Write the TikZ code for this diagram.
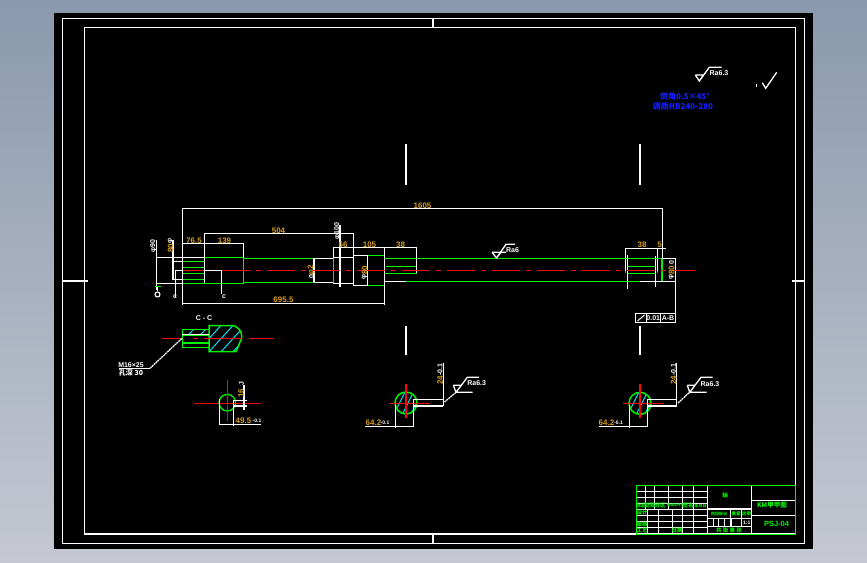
\documentclass[tikz,border=0pt]{standalone}
\usepackage{fontspec}
\setmainfont{Liberation Sans}
\newfontfamily\cjk{Noto Sans CJK SC}
\definecolor{bgtop}{RGB}{138,153,174}
\definecolor{bgbot}{RGB}{197,200,210}
\definecolor{cadorange}{RGB}{215,155,30}
\definecolor{cadgreen}{RGB}{0,245,0}
\definecolor{cadred}{RGB}{245,10,10}
\definecolor{cadblue}{RGB}{20,30,255}
\definecolor{cadcyan}{RGB}{0,225,245}
\tikzset{
  x=1pt,y=-1pt,
  wl/.style={draw=white,line width=1.3pt},
  gl/.style={draw=cadgreen,line width=1.3pt},
  thickgl/.style={draw=cadgreen,line width=1.5pt},
  rl/.style={draw=cadred,line width=1.6pt},
  centerl/.style={rl,dash pattern=on 28pt off 6pt on 5pt off 6pt},
  hl/.style={draw=cadcyan,line width=1pt},
  dot/.style={draw=white,line width=1.2pt,dash pattern=on 2pt off .6pt},
  dimt/.style={text=cadorange,font=\bfseries\fontsize{8}{8}\selectfont,inner sep=0pt},
  whitet/.style={text=white,font=\bfseries\fontsize{7}{7}\selectfont,inner sep=0pt},
  tinyw/.style={text=white,font=\bfseries\fontsize{5}{5}\selectfont,inner sep=0pt},
  bluet/.style={text=cadblue,font=\cjk\bfseries\fontsize{8}{8}\selectfont,inner sep=0pt},
  titlet/.style={text=cadgreen,font=\cjk\bfseries\fontsize{5.5}{5.5}\selectfont,inner sep=0pt},
}
\begin{document}
\begin{tikzpicture}
\useasboundingbox (0,0) rectangle (867,562);
\shade[top color=bgtop,bottom color=bgbot] (0,0) rectangle (867,562);
\fill[black] (54,13) rectangle (813,549);
% frames
\draw[wl] (62.5,18.5) rectangle (804.5,543.5);
\draw[wl] (84.5,27.5) rectangle (795.5,534);
\draw[wl] (433,18.5) -- (433,27.5) (433,534) -- (433,543.5);
\draw[wl] (62.5,281) -- (88,281) (792,281) -- (804.5,281);
% section marks
\draw[wl] (406,144) -- (406,185) (640,144) -- (640,185) (406,326) -- (406,355) (640,326) -- (640,355);
% top right notes
\draw[wl] (695.3,75) -- (703.3,75) -- (699.3,81) -- (695.3,75) (699.3,81) -- (709.3,67.3) -- (721.7,67.3);
\node[whitet] (note1) at (719,73.3) {Ra6.3};
\draw[wl] (756.3,84) -- (756.3,87);
\draw[wl] (762.3,82.7) -- (765.7,88.3) -- (776.7,72.3);
\node[bluet] (blue1) at (685,96) {倒角0.5×45°};
\node[bluet] (blue2) at (683,106) {调质HB240-280};
% shaft green
\draw[gl] (182.5,261.3) -- (204.3,261.3) (182.5,267.3) -- (204.3,267.3) (182.5,273.3) -- (204.3,273.3) (182.5,279.3) -- (204.3,279.3) (182.5,261.3) -- (182.5,283.3);
\draw[thickgl] (204.3,257.5) rectangle (243.3,283.3);
\draw[thickgl] (182.5,283.3) -- (204.3,283.3);
\draw[gl] (243.3,258.3) -- (314,258.3) (243.3,282.3) -- (314,282.3);
\draw[gl] (333.3,257.5) -- (333.3,283.3) (353.3,257.5) -- (353.3,283.3);
\draw[gl] (367.5,255.3) -- (384.3,255.3) (367.5,285.3) -- (384.3,285.3);
\draw[gl] (384.5,258.3) -- (662,258.3) (406,281.3) -- (640,281.3) (662,258.3) -- (662,281.3);
\draw[gl] (386,266.3) -- (416.5,266.3) (384.5,273.3) -- (416.5,273.3) (384.5,264) -- (384.5,273.3);
\draw[gl] (627,266.3) -- (656,266.3) (627,273.3) -- (656,273.3) (625.3,271) -- (625.3,273) (657.7,271) -- (657.7,273);
% shaft white
\draw[wl] (156.3,240) -- (156.3,290) (156.3,257.5) -- (204,257.5) (156.3,283.3) -- (182,283.3);
\draw[wl] (173,240) -- (173,279) (172,261.3) -- (182,261.3) (172,279.3) -- (182,279.3);
\draw[wl] (175.5,297) -- (175.5,270.5) -- (221.5,270.5) -- (221.5,294);
\draw[wl] (182.5,305) -- (182.5,208.5) -- (662.3,208.5) -- (662.3,258);
\draw[wl] (182.5,303.3) -- (384.3,303.3);
\draw[wl] (204.3,283) -- (204.3,233.3) -- (353.3,233.3) -- (353.3,255);
\draw[wl] (183,243.3) -- (243.3,243.3) -- (243.3,258);
\draw[wl] (314,258.3) -- (333,258.3) (314,282.3) -- (333,282.3) (314,258.3) -- (314,282.3);
\draw[wl] (333,257.5) -- (353,257.5) (333,283.3) -- (353,283.3);
\draw[wl] (333.3,258) -- (333.3,247.3) -- (416.5,247.3) -- (416.5,273);
\draw[wl] (340,225) -- (340,287);
\draw[wl] (353.3,255.3) rectangle (367.5,285.3);
\draw[wl] (384.3,247.3) -- (384.3,305) (384.3,281.3) -- (406,281.3);
\draw[wl] (625.3,271) -- (625.3,248.3) -- (666,248.3) (657.7,248.3) -- (657.7,271);
\draw[wl] (627.3,255) -- (627.3,289) (655.3,256) -- (655.3,287);
\draw[wl] (662,258.3) -- (675.3,258.3) -- (675.3,314) (640,281.3) -- (675.3,281.3);
% centre line
\draw[rl] (183,270.5) -- (204,270.5);
\draw[centerl] (222,270.5) -- (695,270.5);
% shaft labels
\node[dimt] (d1605) at (422.5,205.3) {1605};
\node[dimt] (d504) at (278.5,230.3) {504};
\node[dimt] (d765) at (194,240.3) {76.5};
\node[dimt] (d139) at (224.5,241) {139};
\node[dimt] (d66) at (343,244.7) {66};
\node[dimt] (d105) at (369.5,244.7) {105};
\node[dimt] (d38a) at (400.5,244.7) {38};
\node[dimt] (d38b) at (642,245) {38};
\node[dimt] (d5) at (659.5,245) {5};
\node[dimt] (d695) at (283.5,300) {695.5};
\node[dimt,rotate=90] (v1) at (170.5,248) {80};
\node[whitet,rotate=90] (v1b) at (170.5,240.5) {φ};
\node[whitet,rotate=90] (v2) at (153.5,246) {φ90};
\node[dimt,rotate=90] (v3) at (311.5,270) {φ2};
\node[whitet,rotate=90] (v3b) at (311.5,277) {0};
\node[whitet,rotate=90] (v4) at (337.5,231) {φ100};
\node[dimt,rotate=90] (v5) at (364.5,270) {80};
\node[whitet,rotate=90] (v5b) at (364.5,276.5) {φ};
\node[dimt,rotate=90] (v6) at (671.5,270) {80};
\node[whitet,rotate=90] (v6b) at (671.5,263) {0};
\node[whitet,rotate=90] (v6c) at (671.5,276.5) {φ};
\node[whitet] (cl1) at (175,297) {c};
\node[whitet] (cl2) at (224,297) {c};
\draw[gl] (155,286.7) -- (161,286.7);
\draw[wl] (157.5,286.7) -- (157.5,291);
\node[draw=white,circle,line width=1.1pt,minimum size=5pt,inner sep=0pt] (datum) at (157.5,294.5) {};
% Ra6 symbol
\draw[wl] (492,252.3) -- (506,252.3) (492,252.3) -- (496.5,258) -- (506,244.3) -- (515,244.3) (496.5,258) -- (501,252.3);
\node[whitet] (ra6) at (512.5,250) {Ra6};
% tolerance frame
\draw[wl] (635.3,313.3) rectangle (675.7,322.7) (646.3,313.3) -- (646.3,322.7) (660.3,313.3) -- (660.3,322.7);
\draw[draw=white,line width=1pt] (637.5,321) -- (644.5,315);
\node[whitet] (tol1) at (653.3,318) {0.01};
\node[whitet] (tol2) at (668,318) {A-B};
% section C-C
\node[whitet] (cc) at (204,318) {C - C};
\begin{scope}
\clip (182.3,329.3) -- (209,329.3) -- (209,335.3) -- (182.3,335.3) -- cycle
      (209,325.7) -- (234,325.7) .. controls (238,328) and (241.7,330) .. (241.7,336) -- (241.7,338) -- (236,351.7) -- (209,351.7) -- cycle;
\foreach \k in {0,...,8} {
  \draw[hl] ({170+12*\k},355) -- ({170+12*\k+32},320);
}
\end{scope}
\draw[thickgl] (182.3,329.3) -- (209,329.3) (182.3,347.7) -- (209,347.7) (182.3,329.3) -- (182.3,347.7) (182.3,335.3) -- (209,335.3);
\draw[draw=cadgreen,line width=2.2pt] (182.3,342.7) -- (209,342.7);
\draw[thickgl] (209,325.7) -- (234,325.7) .. controls (238,328) and (241.7,330) .. (241.7,336) -- (241.7,338) -- (236,351.7) -- (209,351.7) -- cycle;
\draw[wl] (182.3,334.2) -- (209,334.2);
\draw[rl] (161.7,338.3) -- (181.7,338.3) (193,338.3) -- (198,338.3) (204,338.3) -- (241.7,338.3) (249,338.3) -- (274,338.3);
\draw[dot] (150,368.3) -- (182.3,338);
\draw[wl] (119,368.3) -- (150,368.3);
\node[whitet] (m16) at (131,365) {M16×25};
\node[whitet,font=\cjk\bfseries\fontsize{7}{7}\selectfont] (depth) at (131,372.5) {孔深 30};
% section 1
\draw[gl] (227.3,402.7) circle (8.3);
\draw[rl] (194,403.3) -- (260.7,403.3) (227.3,380) -- (227.3,420.7);
\draw[wl] (219.3,399) -- (219.3,424.5) (233.3,400) -- (233.3,426) (219,424.3) -- (261,424.3);
\draw[wl] (233.3,400.7) -- (246.7,400.7) (233.3,406) -- (246.7,406) (244,385) -- (244,410);
\node[dimt,rotate=90] (s1a) at (241,393.5) {16};
\node[whitet,rotate=90] (s1b) at (241.5,384) {J};
\node[dimt] (s1c) at (243.5,421) {49.5};
\node[tinyw] (s1d) at (257,421) {-0.1};
% section 2
\begin{scope}
\clip (406,403) circle (11);
\foreach \k in {0,...,4} {
  \draw[hl] ({380+8.5*\k},425) -- ({380+8.5*\k+20},385);
}
\end{scope}
\draw[thickgl] (406,403) circle (11);
\draw[rl] (389,403.3) -- (430,403.3) (406,384) -- (406,417.7);
\draw[wl] (395.3,405) -- (395.3,427.7) (413.5,399.3) -- (413.5,426.7) (365,426.3) -- (413.5,426.3);
\draw[wl] (413,399.3) -- (443.3,399.3) (413,406) -- (443.3,406) (443.3,363.3) -- (443.3,406);
\node[dimt,rotate=90] (s2a) at (440,380.5) {24};
\node[whitet,rotate=90] (s2b) at (440,369.5) {-0.1};
\node[dimt] (s2c) at (373.5,423) {64.2};
\node[tinyw] (s2d) at (385,423) {-0.1};
\draw[dot] (444.5,402) -- (456,392.3);
\draw[wl] (456,392.3) -- (472.7,392.3) (453.3,385.3) -- (461.7,385.3) (453.3,385.3) -- (456,392.3) -- (467.3,377.3) -- (479,377.3);
\node[whitet] (s2r) at (476.7,383.3) {Ra6.3};
% section 3
\begin{scope}
\clip (640,403.3) circle (11);
\foreach \k in {0,...,4} {
  \draw[hl] ({614+8.5*\k},425) -- ({614+8.5*\k+20},385);
}
\end{scope}
\draw[thickgl] (640,403.3) circle (11);
\draw[rl] (623,403.3) -- (664,403.3) (640,384) -- (640,417.7);
\draw[wl] (629.3,405) -- (629.3,427.7) (647.7,399.3) -- (647.7,427) (599,426.3) -- (647.7,426.3);
\draw[wl] (647,399.3) -- (676.7,399.3) (647,406) -- (676.7,406) (676.7,363) -- (676.7,406);
\node[dimt,rotate=90] (s3a) at (673.5,380.5) {24};
\node[whitet,rotate=90] (s3b) at (673.5,369.5) {-0.1};
\node[dimt] (s3c) at (606.5,423) {64.2};
\node[tinyw] (s3d) at (618.5,423) {-0.1};
\draw[dot] (678,403) -- (689.5,392.3);
\draw[wl] (689.5,392.3) -- (706.7,392.3) (687.3,385.3) -- (695.3,385.3) (687.3,385.3) -- (689.7,392.3) -- (701,377.3) -- (712.7,377.3);
\node[whitet] (s3r) at (710,383.7) {Ra6.3};
% title block
\draw[wl] (707.7,485.3) -- (707.7,534) (751.3,485.3) -- (751.3,534);
\draw[wl] (751.3,500.3) -- (795,500.3) (751.3,515.3) -- (795,515.3);
\draw[wl] (707.7,509) -- (751.3,509) (707.7,518.3) -- (751.3,518.3) (707.7,526.3) -- (751.3,526.3);
\draw[wl] (730.3,509) -- (730.3,518.3) (741.7,509) -- (741.7,526.3);
\foreach \x in {713.3,718.7,724.3,731} { \draw[wl] (\x,518.3) -- (\x,526.3); }
\foreach \y in {491.3,497.3,503.3,509.3,515.3,521.3,527.3} { \draw[wl] (636.3,\y) -- (707.7,\y); }
\foreach \x in {645.3,654.3,668.3,682.3,693.3} { \draw[wl] (\x,485.3) -- (\x,509.3); }
\foreach \x in {647.3,658.3,672.3,682.3,693.3} { \draw[wl] (\x,509.3) -- (\x,534); }
\draw[draw=cadgreen,line width=1.5pt] (636.3,485.3) rectangle (795.3,534.3);
\node[titlet] (b1) at (641,505.5) {标记};
\node[titlet] (b2) at (650,505.5) {处数};
\node[titlet] (b3) at (660,505.5) {分区};
\node[titlet,font=\cjk\bfseries\fontsize{3.5}{3.5}\selectfont] (b4) at (675.5,505.5) {更改文件号};
\node[titlet] (b5) at (688,505.5) {签名};
\node[titlet,font=\cjk\bfseries\fontsize{4}{4}\selectfont] (b6) at (700.5,505.5) {年月日};
\node[titlet] (b7) at (642,512.5) {设计};
\node[titlet] (b8) at (642,524) {审核};
\node[titlet] (b9) at (642,530.5) {工艺};
\node[titlet] (b10) at (677,530.5) {日期};
\node[titlet,font=\cjk\bfseries\fontsize{4}{4}\selectfont] (b11) at (719,513.5) {阶段标记};
\node[titlet,font=\cjk\bfseries\fontsize{4.5}{4.5}\selectfont] (b12) at (736,513.5) {重量};
\node[titlet,font=\cjk\bfseries\fontsize{4.5}{4.5}\selectfont] (b13) at (746.5,513.5) {比例};
\node[titlet] (b14) at (729,530) {共\ 张\ 第\ 张};
\node[titlet] (b15) at (725,495.3) {轴};
\node[tinyw] (b16) at (746.7,522.3) {1:1};
\node[titlet,font=\cjk\bfseries\fontsize{6.5}{6.5}\selectfont] (b17) at (772,505.5) {KM甲甲图};
\node[titlet,font=\bfseries\fontsize{7.5}{7.5}\selectfont] (b18) at (776.5,524) {PSJ-04};
\end{tikzpicture}
\end{document}
